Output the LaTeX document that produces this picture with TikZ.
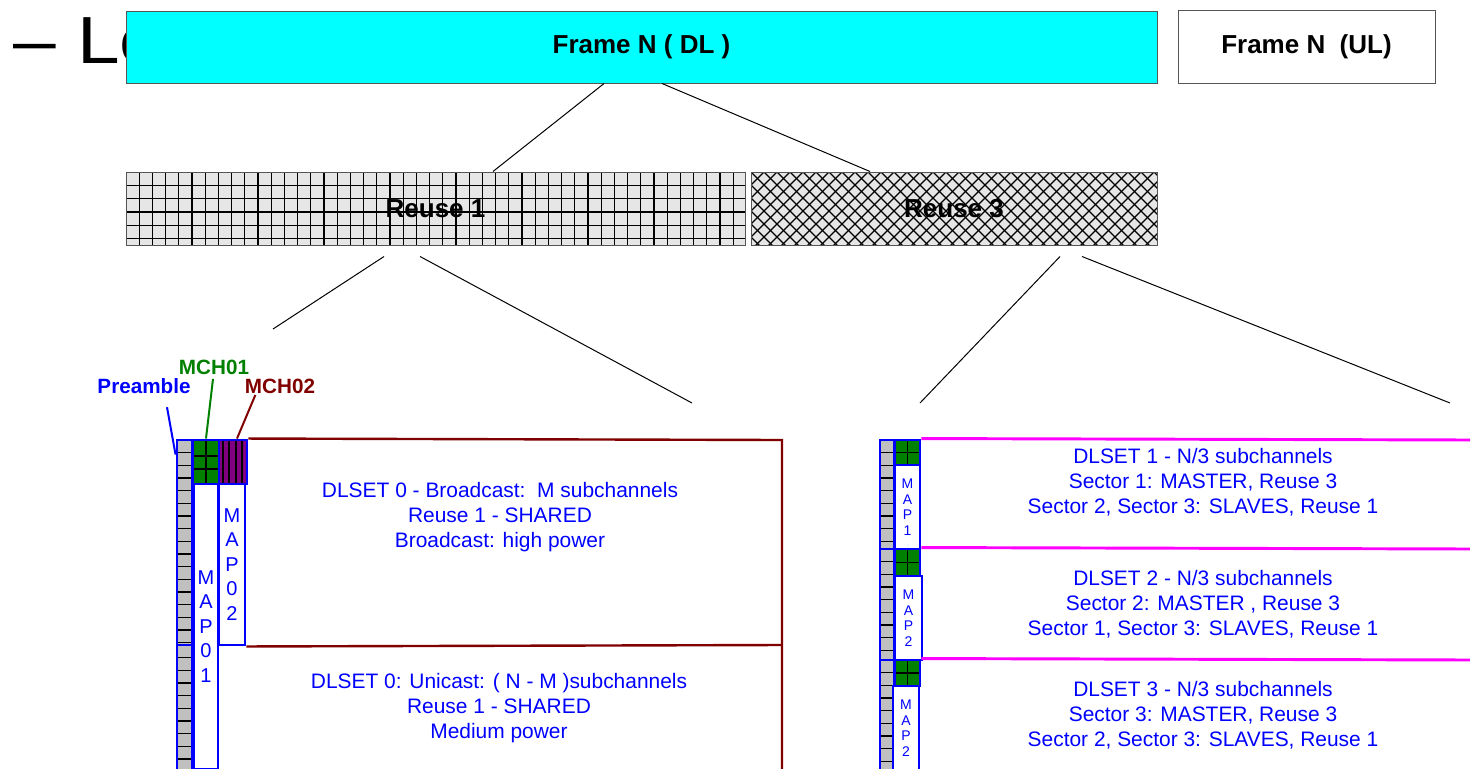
\documentclass[tikz,border=0pt]{standalone}
\usepackage{fontspec}
\setmainfont{Liberation Sans}
\usetikzlibrary{calc}
\definecolor{ink}{HTML}{000000}
\definecolor{edgegray}{HTML}{555555}
\definecolor{cyanbar}{HTML}{00FFFF}
\definecolor{reusefill}{HTML}{E6E6E6}
\definecolor{prefill}{HTML}{C0C0C0}
\definecolor{mapblue}{HTML}{0000FF}
\definecolor{mchgreen}{HTML}{008000}
\definecolor{mchpurple}{HTML}{800080}
\definecolor{dlred}{HTML}{800000}
\definecolor{dlpink}{HTML}{FF00FF}
\tikzset{
  boxsize/.style 2 args={minimum width=#1*0.75pt, minimum height=#2*0.75pt},
  title/.style={font=\fontsize{50}{60}\selectfont, text=ink, inner sep=0pt},
  framebox/.style={draw=edgegray, line width=0.75pt, inner sep=0pt,
                   font=\bfseries\fontsize{19.5}{23}\selectfont, text=ink},
  reusebox/.style={framebox, fill=reusefill},
  cell/.style={draw=ink, line width=1pt},
  reusegrid/.style={path picture={
      \foreach \k in {1,...,47}
        \draw[cell] ([xshift=\k*9.9pt]path picture bounding box.north west) -- ++(0,-60pt);
      \foreach \k in {1,...,5}
        \draw[cell] ([yshift=-\k*10pt]path picture bounding box.north west) -- ++(480pt,0);
  }},
  reusecross/.style={path picture={
      \foreach \k in {-8,...,40} {
        \draw[cell] ([xshift=\k*9.75pt]path picture bounding box.north west) -- ++(70pt,-70pt);
        \draw[cell] ([xshift=\k*9.75pt]path picture bounding box.north west) -- ++(-70pt,-70pt);
      }
  }},
  prebox/.style={draw=mapblue, line width=2.2pt, fill=prefill, inner sep=0pt,
    path picture={
      \foreach \k in {1,...,24}
        \draw[cell] ([yshift=-\k*9.5pt]path picture bounding box.north west) -- ++(30pt,0);
  }},
  mchbox/.style={draw=mapblue, line width=2.2pt, fill=mchgreen, inner sep=0pt},
  mchgridA/.style={path picture={
      \draw[cell] (path picture bounding box.north) -- (path picture bounding box.south);
      \draw[cell] ($(path picture bounding box.north west)!0.36!(path picture bounding box.south west)$) -- ++(30pt,0);
      \draw[cell] ($(path picture bounding box.north west)!0.66!(path picture bounding box.south west)$) -- ++(30pt,0);
  }},
  mchcross/.style={path picture={
      \draw[cell] (path picture bounding box.north) -- (path picture bounding box.south);
      \draw[cell] (path picture bounding box.west) -- (path picture bounding box.east);
  }},
  mchstripe/.style={fill=mchpurple, path picture={
      \foreach \k in {0,...,3}
        \draw[ink, line width=1.5pt] ([xshift=2.8pt+\k*4.9pt]path picture bounding box.north west) -- ++(0,-40pt);
  }},
  mapbox/.style={draw=mapblue, line width=2.2pt, fill=white, inner sep=0pt, align=center,
                 text=mapblue, font=\fontsize{15}{18.4}\selectfont},
  mapsmall/.style={mapbox, font=\fontsize{10.5}{11.6}\selectfont},
  link/.style={draw=ink, line width=0.75pt},
  redline/.style={draw=dlred, line width=1.8pt},
  pinkline/.style={draw=dlpink, line width=2.2pt},
  dltext/.style={align=center, text=mapblue, font=\fontsize{15.7}{18.75}\selectfont},
  lbl/.style={font=\bfseries\fontsize{15.5}{18}\selectfont, inner sep=1pt},
  pointer/.style={line width=1.5pt},
}
\begin{document}
\begin{tikzpicture}[x=0.75pt, y=-0.75pt]
\useasboundingbox (0,0) rectangle (1470,768);
\clip (0,0) rectangle (1470,768);

\node[title, xscale=1.15, transform shape, anchor=base west] (ttl) at (13,63) {– Lo};

% --- frames ---
\node[framebox, fill=cyanbar, boxsize={1031}{72}] (frameDL) at (641.5,47) {Frame N ( DL )};
\node[framebox, fill=white, boxsize={257}{73}] (frameUL) at (1306.5,46.5) {Frame N\ \ (UL)};

% --- reuse zones ---
\node[reusebox, reusegrid, boxsize={619}{73}] (reuseA) at (435.5,208.5) {Reuse 1};
\node[reusebox, reusecross, boxsize={406}{73}] (reuseB) at (954,208.5) {Reuse 3};

\draw[link] ([xshift=-28.1pt]frameDL.south) -- ([xshift=43.1pt]reuseA.north);
\draw[link] ([xshift=15.4pt]frameDL.south) -- ([xshift=-63pt]reuseB.north);

\coordinate (zoomA1) at (273,329);
\coordinate (zoomA2) at (692,403);
\coordinate (zoomB1) at (920,403);
\coordinate (zoomB2) at (1450,403);
\draw[link] ([xshift=-38.6pt, yshift=-8.25pt]reuseA.south) -- (zoomA1);
\draw[link] ([xshift=-11.6pt, yshift=-8.25pt]reuseA.south) -- (zoomA2);
\draw[link] ([xshift=79.5pt, yshift=-8.25pt]reuseB.south) -- (zoomB1);
\draw[link] ([xshift=96pt, yshift=-8.25pt]reuseB.south) -- (zoomB2);

% --- reuse 1 detail ---
\coordinate (redTop) at (782,440);
\coordinate (redMid) at (782,645);
\coordinate (redEnd) at (782,770);
\node[prebox, boxsize={15}{205}] (preA1) at (184.5,542.5) {};
\node[prebox, boxsize={15}{125}] (preA2) at (184.5,707.5) {};
\node[mapbox, boxsize={24}{285}] (map01) at (206,626.5) {M\\A\\P\\0\\1};
\node[mapbox, boxsize={26}{161}] (map02) at (232,564.5) {M\\A\\P\\0\\2};
\node[mchbox, mchgridA, boxsize={26}{44}] (mch01) at (206,462) {};
\node[mchbox, mchstripe, boxsize={28}{44}] (mch02) at (233,462) {};
\draw[redline] (mch02.north east) -- (redTop) -- (redEnd);
\draw[redline] (map02.south east) -- (redMid);

\node[dltext] (dlBcast) at (500,517)
  {DLSET 0 - Broadcast:\ \ M subchannels\\Reuse 1 - SHARED\\Broadcast: high power};
\node[dltext] (dlUcast) at (499,708)
  {DLSET 0: Unicast: ( N - M )subchannels\\Reuse 1 - SHARED\\Medium power};

\node[lbl, text=mapblue] (preLbl) at (144,386) {Preamble};
\node[lbl, text=mchgreen] (mch01Lbl) at (214,367) {MCH01};
\node[lbl, text=dlred] (mch02Lbl) at (280,386) {MCH02};
\draw[pointer, mapblue] ($(preLbl.south)+(23,12)$) -- ($(preA1.north west)+(0,16)$);
\draw[pointer, mchgreen] ($(mch01Lbl.south)+(-1,3)$) -- (mch01.north);
\draw[pointer, dlred] ($(mch02Lbl.south west)+(12,0)$) -- ($(mch02.north)+(4,0)$);

% --- reuse 3 detail ---
\node[prebox, boxsize={14}{109}] (preB1) at (887,494.5) {};
\node[prebox, boxsize={14}{111}] (preB2) at (887,604.5) {};
\node[prebox, boxsize={14}{110}] (preB3) at (887,715) {};
\node[mapsmall, boxsize={25}{84}] (mapB1) at (907.5,507) {M\\A\\P\\1};
\node[mapsmall, boxsize={27}{84}] (mapB2) at (908.5,618) {M\\A\\P\\2};
\node[mapsmall, boxsize={26}{84}] (mapB3) at (906,728) {M\\A\\P\\2};
\node[mchbox, mchcross, boxsize={25}{25}] (mchB1) at (907.5,452.5) {};
\node[mchbox, mchcross, boxsize={25}{27}] (mchB2) at (907.5,562.5) {};
\node[mchbox, mchcross, boxsize={25}{26}] (mchB3) at (907.5,673) {};
\coordinate (pinkEnd1) at (1472,440);
\coordinate (pinkEnd2) at (1472,549);
\coordinate (pinkEnd3) at (1472,660);
\draw[pinkline] (mchB1.north east) -- (pinkEnd1);
\draw[pinkline] (mchB2.north east) -- (pinkEnd2);
\draw[pinkline] (mchB3.north east) -- (pinkEnd3);

\node[dltext] (dlSet1) at (1203,482)
  {DLSET 1 - N/3 subchannels\\Sector 1: MASTER, Reuse 3\\Sector 2, Sector 3: SLAVES, Reuse 1};
\node[dltext] (dlSet2) at (1203,604)
  {DLSET 2 - N/3 subchannels\\Sector 2: MASTER , Reuse 3\\Sector 1, Sector 3: SLAVES, Reuse 1};
\node[dltext] (dlSet3) at (1203,715)
  {DLSET 3 - N/3 subchannels\\Sector 3: MASTER, Reuse 3\\Sector 2, Sector 3: SLAVES, Reuse 1};

\end{tikzpicture}
\end{document}
